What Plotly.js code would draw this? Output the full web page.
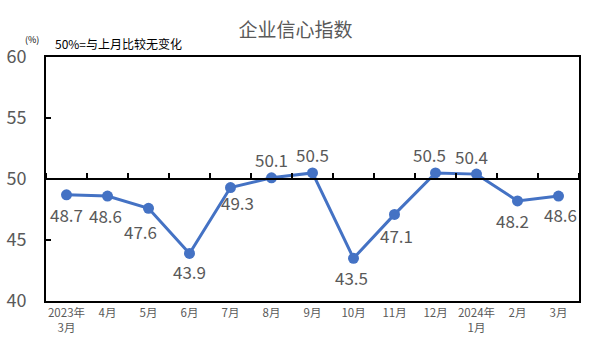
<!DOCTYPE html>
<html><head><meta charset="utf-8">
<script src="https://cdn.plot.ly/plotly-3.0.1.min.js"></script>
<style>body{margin:0;padding:0;background:#fff}#c{width:591px;height:354px}</style>
</head><body><div id="c"></div>
<script>
const categories = ["2023年<br>3月","4月","5月","6月","7月","8月","9月","10月","11月","12月","2024年<br>1月","2月","3月"];
const values = [48.7,48.6,47.6,43.9,49.3,50.1,50.5,43.5,47.1,50.5,50.4,48.2,48.6];
// label offsets in pixels (dx, dy: positive = right / down)
const labelDx = [0,-2,-8,0,7,0,0,-2,2,-6,-5,-5,2];
const labelDy = [20,19,23,18,15,-18,-18,19,21,-18,-18,20,18];
const yTicks = [40,45,50,55,60];

const F = '"Noto Sans CJK SC", "Noto Sans", sans-serif';
const grey = '#595959';

const trace = {
  x: categories, y: values, type: 'scatter', mode: 'lines+markers',
  line: {color: '#4472C4', width: 3},
  marker: {color: '#4472C4', size: 11},
  cliponaxis: false, hoverinfo: 'skip'
};
const ref = {x: categories, y: values, xaxis: 'x2', yaxis: 'y', type: 'scatter', mode: 'none', hoverinfo: 'skip', showlegend: false};

const xr = [-0.5, categories.length - 0.5];

const valueLabels = values.map((v, i) => ({
  x: categories[i], y: v, xref: 'x', yref: 'y', showarrow: false,
  text: v.toFixed(1), xshift: labelDx[i], yshift: -labelDy[i],
  xanchor: 'center', yanchor: 'middle',
  font: {family: F, size: 17, color: grey}
}));

const layout = {
  width: 591, height: 354,
  margin: {l: 46, r: 12, t: 57, b: 53},
  paper_bgcolor: '#fff', plot_bgcolor: '#fff',
  showlegend: false,
  font: {family: F, color: grey},
  title: {text: '企业信心指数', x: 0.5, xanchor: 'center', y: 0.915, yanchor: 'middle', font: {family: F, size: 19, color: grey}},
  xaxis: {type: 'category', range: xr, autorange: false, showline: true, mirror: true, linecolor: '#000', linewidth: 2,
    showgrid: false, zeroline: false, ticks: '', tickfont: {family: F, size: 11.5, color: grey}},
  xaxis2: {type: 'category', overlaying: 'x', anchor: 'free', position: 0.5, side: 'top', range: xr, autorange: false,
    showline: true, linecolor: '#000', linewidth: 2, ticks: 'outside', ticklen: 5, tickwidth: 2,
    tickcolor: '#000', tickson: 'boundaries', showticklabels: false, showgrid: false, zeroline: false,
    categoryorder: 'array', categoryarray: categories},
  yaxis: {range: [40, 60], tickvals: yTicks, showline: true, mirror: true, linecolor: '#000', linewidth: 2,
    ticks: 'inside', ticklen: 5, tickwidth: 2, tickcolor: '#000', showgrid: false, zeroline: false,
    ticklabelstandoff: 14, tickfont: {family: F, size: 18, color: grey}},
  annotations: [
    {xref: 'paper', yref: 'paper', x: -0.027, y: 1.07, xanchor: 'center', yanchor: 'middle', showarrow: false,
     text: '(%)', font: {family: F, size: 9, color: '#000'}},
    {xref: 'paper', yref: 'paper', x: 0.013, y: 1.055, xanchor: 'left', yanchor: 'middle', showarrow: false,
     text: '50%=与上月比较无变化', font: {family: F, size: 12, color: '#000'}}
  ].concat(valueLabels)
};
Plotly.newPlot('c', [trace, ref], layout, {displayModeBar: false, staticPlot: true});
</script></body></html>
